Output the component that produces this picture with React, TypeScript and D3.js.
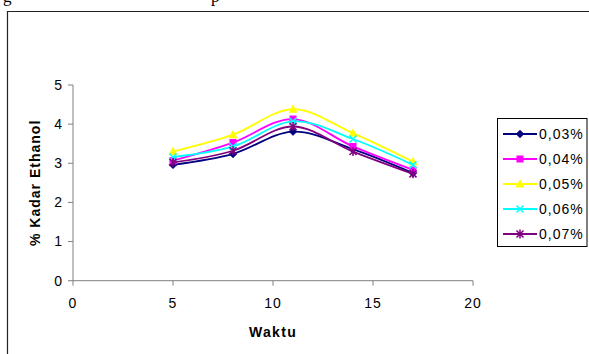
import React from "react";
import * as d3 from "d3";

const waktu = [5, 8, 11, 14, 17];
const seriesNames = ["0,03%", "0,04%", "0,05%", "0,06%", "0,07%"];
const s003 = [2.96, 3.24, 3.81, 3.36, 2.75];
const s004 = [3.07, 3.53, 4.13, 3.43, 2.83];
const s005 = [3.3, 3.73, 4.38, 3.77, 3.04];
const s006 = [3.16, 3.43, 4.07, 3.62, 2.96];
const s007 = [3.02, 3.32, 3.94, 3.3, 2.73];
const seriesValues = [s003, s004, s005, s006, s007];
const colors = ["#000080", "#FF00FF", "#FFFF00", "#00FFFF", "#800080"];
const markers = ["diamond", "square", "triangle", "x", "star"];
const xTicks = [0, 5, 10, 15, 20];
const yTicks = [0, 1, 2, 3, 4, 5];

const FONT = "Liberation Sans, Arial, sans-serif";

function Marker({ type, x, y, color }: { type: string; x: number; y: number; color: string }) {
  if (type === "diamond") {
    const r = 4;
    return <path d={`M${x},${y - r}L${x + r},${y}L${x},${y + r}L${x - r},${y}Z`} fill={color} stroke={color} strokeWidth={0.5} />;
  }
  if (type === "square") {
    return <rect x={x - 3.5} y={y - 3.5} width={7} height={7} fill={color} />;
  }
  if (type === "triangle") {
    return <path d={`M${x},${y - 5}L${x + 4.5},${y + 3.5}L${x - 4.5},${y + 3.5}Z`} fill={color} />;
  }
  if (type === "x") {
    const r = 3.5;
    return (
      <path d={`M${x - r},${y - r}L${x + r},${y + r}M${x - r},${y + r}L${x + r},${y - r}`} stroke={color} strokeWidth={1.5} fill="none" />
    );
  }
  const r = 3.5;
  return (
    <path
      d={`M${x - r},${y - r}L${x + r},${y + r}M${x - r},${y + r}L${x + r},${y - r}M${x},${y - r - 1}L${x},${y + r + 1}`}
      stroke={color}
      strokeWidth={1.5}
      fill="none"
    />
  );
}

export default function App() {
  const x = d3.scaleLinear().domain([0, 20]).range([73, 473]);
  const y = d3.scaleLinear().domain([0, 5]).range([280.7, 85]);
  const line = d3
    .line<number>()
    .x((_, i) => x(waktu[i]))
    .y((v) => y(v))
    .curve(d3.curveCatmullRom.alpha(0));

  const legendX = 497.5;
  const legendY = 118.5;
  const legendRowY = (i: number) => 134 + i * 25;

  return (
    <svg width={589} height={354} style={{ position: "absolute", left: 0, top: 0, background: "#fff" }}>
      <rect x={0} y={0} width={589} height={354} fill="#fff" />
      <text x={3} y={2} fontFamily="Liberation Serif, Times New Roman, serif" fontSize={17} fill="#000">g</text>
      <text x={211} y={2} fontFamily="Liberation Serif, Times New Roman, serif" fontSize={17} fill="#000">p</text>
      {/* chart frame */}
      <path d="M7.5,360V11.5H600" fill="none" stroke="#222" strokeWidth={1.2} />

      {/* axes */}
      <line x1={x(0)} x2={x(20)} y1={y(0)} y2={y(0)} stroke="#808080" strokeWidth={1} />
      <line x1={x(0)} x2={x(0)} y1={y(0)} y2={y(5)} stroke="#808080" strokeWidth={1} />
      {yTicks.map((t) => (
        <g key={"y" + t}>
          <line x1={x(0) - 5} x2={x(0)} y1={y(t)} y2={y(t)} stroke="#808080" />
          <text x={62} y={y(t)} dy="0.35em" textAnchor="end" fontFamily={FONT} fontSize={14} fill="#000">
            {t}
          </text>
        </g>
      ))}
      {xTicks.map((t) => (
        <g key={"x" + t}>
          <line x1={x(t)} x2={x(t)} y1={y(0)} y2={y(0) + 5} stroke="#808080" />
          <text x={x(t)} y={303} dy="0.35em" textAnchor="middle" fontFamily={FONT} fontSize={14} letterSpacing={1} fill="#000">
            {t}
          </text>
        </g>
      ))}
      <text
        transform={`translate(35,${(y(0) + y(5)) / 2}) rotate(-90)`}
        textAnchor="middle"
        dy="0.35em"
        fontFamily={FONT}
        fontSize={14}
        fontWeight="bold"
        letterSpacing={1}
        fill="#000"
      >
        % Kadar Ethanol
      </text>
      <text x={(x(0) + x(20)) / 2} y={332} dy="0.35em" textAnchor="middle" fontFamily={FONT} fontSize={14} fontWeight="bold" letterSpacing={1.3} fill="#000">
        Waktu
      </text>

      {/* series */}
      {seriesValues.map((vals, si) => (
        <g key={"s" + si}>
          <path d={line(vals) || ""} fill="none" stroke={colors[si]} strokeWidth={1.8} />
          {vals.map((v, i) => (
            <Marker key={i} type={markers[si]} x={x(waktu[i])} y={y(v)} color={colors[si]} />
          ))}
        </g>
      ))}

      {/* legend */}
      <rect x={legendX} y={legendY} width={89.5} height={128} fill="#fff" stroke="#000" strokeWidth={1} />
      {seriesNames.map((n, i) => (
        <g key={"l" + i}>
          <line x1={503} x2={537} y1={legendRowY(i)} y2={legendRowY(i)} stroke={colors[i]} strokeWidth={1.8} />
          <Marker type={markers[i]} x={520} y={legendRowY(i)} color={colors[i]} />
          <text x={539} y={legendRowY(i)} dy="0.35em" fontFamily={FONT} fontSize={14} letterSpacing={1} fill="#000">
            {n}
          </text>
        </g>
      ))}
    </svg>
  );
}
